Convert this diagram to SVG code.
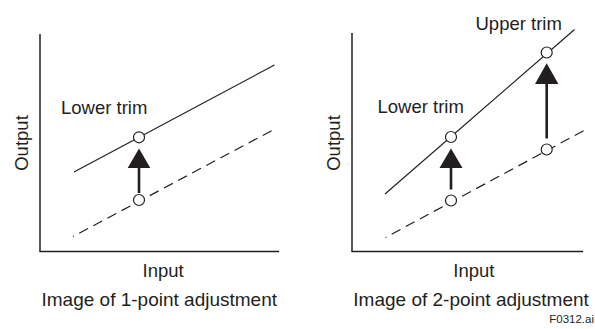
<svg xmlns="http://www.w3.org/2000/svg" width="595" height="329" viewBox="0 0 595 329">
<style>
text{font-family:"Liberation Sans",Arial,sans-serif;fill:#231f20}
.lbl{font-size:18.5px}
.ttl{font-size:19px}
.axis{fill:none;stroke:#231f20;stroke-width:1.5}
.solid{fill:none;stroke:#231f20;stroke-width:1.2}
.dash{fill:none;stroke:#231f20;stroke-width:1.2;stroke-dasharray:10 6;stroke-dashoffset:9}
.pt{fill:#fff;stroke:#231f20;stroke-width:1.2}
.shaft{stroke:#231f20;stroke-width:2.6}
.head{fill:#231f20}
</style>
<rect width="595" height="329" fill="#fff"/>
<g id="panel1">
  <g id="axes1">
    <polyline class="axis" points="40,34 40,251.5 279,251.5"/>
    <text class="lbl" x="142.5" y="276.5">Input</text>
    <text class="lbl" transform="translate(28,143) rotate(-90)" text-anchor="middle">Output</text>
  </g>
  <g id="lines1">
    <line class="solid" x1="74" y1="172" x2="274.5" y2="65"/>
    <line class="dash" x1="73" y1="236.5" x2="272" y2="130.5"/>
  </g>
  <g id="connectors1">
    <line class="shaft" x1="139" y1="193" x2="139" y2="166"/>
    <polygon class="head" points="127.7,168 150.3,168 139,148.5"/>
  </g>
  <g id="points1">
    <circle class="pt" cx="139" cy="137.3" r="5.5"/>
    <circle class="pt" cx="139" cy="200" r="5.5"/>
  </g>
  <text class="lbl" x="61" y="113.5">Lower trim</text>
  <text class="ttl" x="41.5" y="306">Image of 1-point adjustment</text>
</g>
<g id="panel2">
  <g id="axes2">
    <polyline class="axis" points="352,33 352,251.5 583,251.5"/>
    <text class="lbl" x="453.3" y="276.5">Input</text>
    <text class="lbl" transform="translate(339.5,143) rotate(-90)" text-anchor="middle">Output</text>
  </g>
  <g id="lines2">
    <line class="solid" x1="385" y1="194" x2="574.5" y2="29.5"/>
    <line class="dash" x1="385.5" y1="237.5" x2="584" y2="130.5"/>
  </g>
  <g id="connectors2">
    <line class="shaft" x1="451" y1="189.5" x2="451" y2="166"/>
    <polygon class="head" points="439.5,168 462.5,168 451,148.5"/>
    <line class="shaft" x1="546.7" y1="138.5" x2="546.7" y2="82"/>
    <polygon class="head" points="535,84 558.4,84 546.7,63.3"/>
  </g>
  <g id="points2">
    <circle class="pt" cx="451" cy="137" r="5.5"/>
    <circle class="pt" cx="546.7" cy="52.5" r="5.5"/>
    <circle class="pt" cx="451" cy="200.5" r="5.5"/>
    <circle class="pt" cx="546.7" cy="149.5" r="5.5"/>
  </g>
  <text class="lbl" x="377.5" y="113">Lower trim</text>
  <text class="lbl" x="475.5" y="30">Upper trim</text>
  <text class="ttl" x="353.3" y="306">Image of 2-point adjustment</text>
</g>
<text x="594" y="323" font-size="11.5" text-anchor="end">F0312.ai</text>
</svg>
